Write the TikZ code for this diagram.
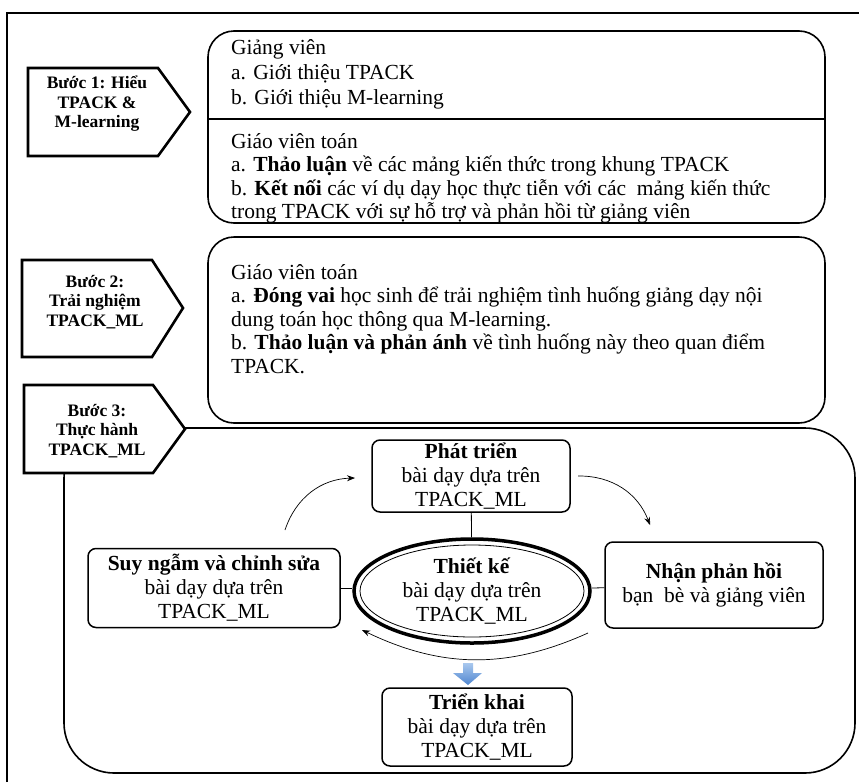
\documentclass[tikz,border=0pt]{standalone}
\usepackage{fontspec}
\setmainfont{Liberation Serif}
\usepackage[svgnames, dvipsnames]{xcolor}
\usetikzlibrary{calc, arrows.meta, shapes.geometric}

\definecolor{arrowtop}{HTML}{A9C8EE}
\definecolor{arrowbot}{HTML}{4F86D0}

\begin{document}
\begin{tikzpicture}[x=1pt, y=-1pt,
  stepbox/.style={draw, line width=2.6pt, fill=white, line join=miter},
  steptext/.style={font=\bfseries\fontsize{17.5}{19.5}\selectfont, align=center, inner sep=0pt},
  panel/.style={draw, line width=1.6pt, rounded corners=26pt},
  paneltext/.style={font=\fontsize{21.5}{23.5}\selectfont, align=left, anchor=north west, inner sep=0pt},
  stage/.style={draw, line width=1.5pt, rounded corners=8pt, align=center, font=\fontsize{21.5}{24}\selectfont, inner sep=2pt},
  cyc/.style={-{Stealth[length=8pt, width=6pt]}, line width=0.7pt}]
\useasboundingbox (0,0) rectangle (859,782);
\draw[line width=2pt] (7,782) -- (7,13) -- (859,13); % outer frame

% Buoc 1
\draw[panel] (208,31) rectangle (825,223);
\draw[line width=1.6pt] (208,119) -- (825,119); % divider
\node[paneltext, font=\fontsize{21.5}{25}\selectfont] (lecturer) at (231,39) {Giảng viên\\ a. Giới thiệu TPACK\\ b. Giới thiệu M-learning};
\node[paneltext] (teacher1) at (231,133) {Giáo viên toán\\ a. \textbf{Thảo luận} về các mảng kiến thức trong khung TPACK\\ b. \textbf{Kết nối} các ví dụ dạy học thực tiễn với các\ \ mảng kiến thức\\ trong TPACK với sự hỗ trợ và phản hồi từ giảng viên};
\draw[stepbox] (28,68) -- (158,68) -- (190,112) -- (158,156) -- (28,156) -- cycle;
\node[steptext] (step1) at (97,104) {Bước 1: Hiểu\\ TPACK \&\\ M-learning};

% Buoc 2
\draw[panel] (208,237) rectangle (825,423);
\node[paneltext] (teacher2) at (231,264) {Giáo viên toán\\ a. \textbf{Đóng vai} học sinh để trải nghiệm tình huống giảng dạy nội\\ dung toán học thông qua M-learning.\\ b. \textbf{Thảo luận và phản ánh} về tình huống này theo quan điểm\\ TPACK.};
\draw[stepbox] (22,260) -- (152,260) -- (183,308) -- (152,357) -- (22,357) -- cycle;
\node[steptext] (step2) at (95,302) {Bước 2:\\ Trải nghiệm\\ TPACK\_ML};

% Buoc 3
\draw[line width=1.6pt, rounded corners=50pt] (64,428) rectangle (855,773);
\draw[stepbox] (24,385) -- (153,385) -- (185,429) -- (153,473) -- (24,473) -- cycle;
\node[steptext] (step3) at (97,431) {Bước 3:\\ Thực hành\\ TPACK\_ML};

% chu trinh
\node[stage, minimum width=198pt, minimum height=72pt] (dev) at (471,476) {\textbf{Phát triển}\\ bài dạy dựa trên\\ TPACK\_ML};
\node[draw, ellipse, line width=3.5pt, minimum width=236pt, minimum height=104pt, align=center, inner sep=0pt, font=\fontsize{21.5}{24}\selectfont] (design) at (472,591) {\textbf{Thiết kế}\\ bài dạy dựa trên\\ TPACK\_ML};
\draw[line width=0.8pt] (design.center) ellipse (112pt and 46pt); % inner line
\node[stage, minimum width=252pt, minimum height=79pt] (reflect) at (214,588) {\textbf{Suy ngẫm và chỉnh sửa}\\ bài dạy dựa trên\\ TPACK\_ML};
\node[stage, minimum width=218pt, minimum height=86pt] (feedback) at (714,585) {\textbf{Nhận phản hồi}\\ bạn\ \ bè và giảng viên};
\node[stage, minimum width=190pt, minimum height=78pt] (deploy) at (477,727) {\textbf{Triển khai}\\ bài dạy dựa trên\\ TPACK\_ML};

\draw[line width=0.8pt] (dev) -- (design);
\draw[line width=0.8pt] (reflect.east) -- (reflect.east -| design.west);
\draw[line width=0.8pt] (design) -- (feedback);

\coordinate (a1) at (285,530);
\coordinate (a2) at (355,478);
\coordinate (b1) at (578,476);
\coordinate (b2) at (650,525);
\coordinate (c1) at (588,633);
\coordinate (c2) at (362,630);
\draw[cyc] (a1) to[bend left=35] (a2);
\draw[cyc] (b1) to[bend left=35] (b2);
\draw[cyc] (c1) to[bend left=25] (c2);

\shade[top color=arrowtop, bottom color=arrowbot] (463,663) -- (473,663) -- (473,673) -- (482,673) -- (468,685) -- (453,673) -- (463,673) -- cycle; % down arrow
\end{tikzpicture}
\end{document}
